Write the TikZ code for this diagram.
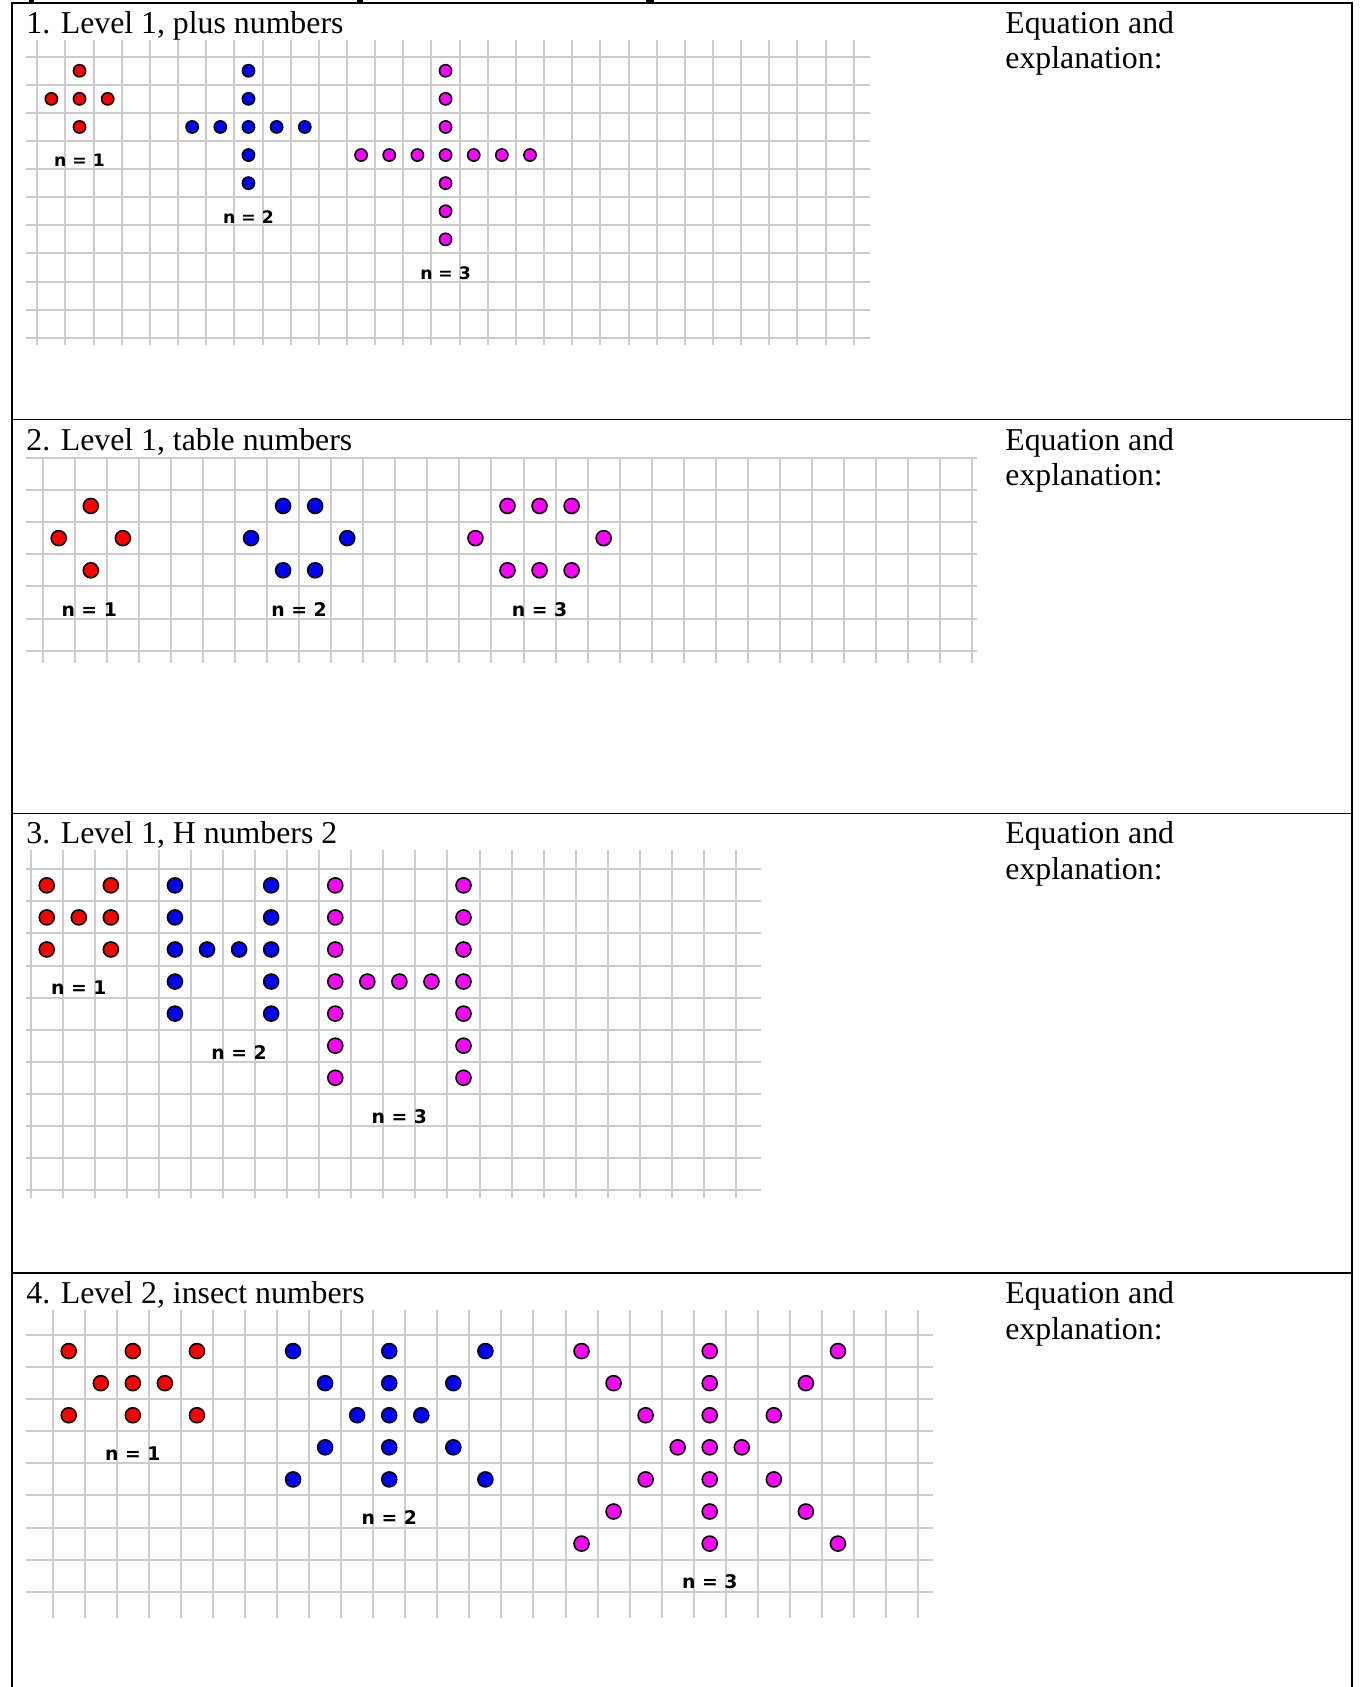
\documentclass[tikz,border=0pt]{standalone}
\usepackage{fontspec}
\setmainfont{Liberation Serif}
\newfontfamily\lblfont{DejaVu Sans}
\definecolor{gridgray}{RGB}{204,204,204}
\definecolor{dred}{RGB}{255,0,0}
\definecolor{dblue}{RGB}{0,0,255}
\definecolor{dmag}{RGB}{255,0,255}
\newcommand{\nlab}[1]{n = #1}
\begin{document}
\begin{tikzpicture}[x=0.5pt,y=-0.5pt,
  tableline/.style={draw=black,line width=0.9pt},
  gline/.style={draw=gridgray,line width=1pt},
  pdot/.style={circle,draw=black,line width=0.8pt,inner sep=0pt,minimum size=7.5pt,fill=#1},
  lbl/.style={font=\lblfont\bfseries\fontsize{9.4}{11}\selectfont,inner sep=0pt,anchor=center},
  lblsmall/.style={lbl,font=\lblfont\bfseries\fontsize{8.6}{10}\selectfont},
  title/.style={font=\fontsize{15.9}{18}\selectfont,inner sep=0pt,anchor=base west}]
\useasboundingbox (0,0) rectangle (1360,1687);
\fill[white] (0,0) rectangle (1360,1687);
% cut-off descenders above the table
\fill[black] (29,0) rectangle (34,2.5);
\fill[black] (357,0) rectangle (363,2.5);
\fill[black] (646,0) rectangle (654,2.5);
% table
\draw[tableline] (12.3,1687) -- (12.3,2.7) -- (1352,2.7) -- (1352,1687);
\draw[tableline] (12.3,419.5) -- (1352,419.5);
\draw[tableline] (12.3,813.4) -- (1352,813.4);
\draw[tableline] (12.3,1273.3) -- (1352,1273.3);
% titles
\node[title] (t1) at (26,33.2) {1. Level 1, plus numbers};
\node[title] (t2) at (26,450) {2. Level 1, table numbers};
\node[title] (t3) at (26,843.9) {3. Level 1, H numbers 2};
\node[title] (t4) at (26,1303.8) {4. Level 2, insect numbers};
\foreach \yy/\k in {33.2/1,450/2,843.9/3,1303.8/4}{
  \node[title] (e\k a) at (1005,\yy) {Equation and};
  \node[title] (e\k b) at (1005,\yy+35.5) {explanation:};
}
% ---------- grid 1
\begin{scope}[shift={(37.3,56.7)},x=14.0775pt,y=-14.05pt,pdot/.append style={minimum size=6.1pt}]
  \foreach \i in {0,...,29} \draw[gline] (\i,-0.594) -- (\i,10.26);
  \foreach \k in {0,...,10} \draw[gline] (-0.401,\k) -- (29.576,\k);
  \foreach \c/\r [count=\n] in {1/0,0/1,1/1,2/1,1/2}
    \node[pdot=dred] (g1r\n) at (\c+0.5,\r+0.5) {};
  \foreach \c/\r [count=\n] in {7/0,7/1,5/2,6/2,7/2,8/2,9/2,7/3,7/4}
    \node[pdot=dblue] (g1b\n) at (\c+0.5,\r+0.5) {};
  \foreach \c/\r [count=\n] in {14/0,14/1,14/2,11/3,12/3,13/3,14/3,15/3,16/3,17/3,14/4,14/5,14/6}
    \node[pdot=dmag] (g1m\n) at (\c+0.5,\r+0.5) {};
  \node[lblsmall] (g1l1) at (1.5,3.7) {\nlab{1}};
  \node[lblsmall] (g1l2) at (7.5,5.7) {\nlab{2}};
  \node[lblsmall] (g1l3) at (14.5,7.7) {\nlab{3}};
\end{scope}
% ---------- grid 2
\begin{scope}[shift={(42.7,457.7)},x=16.0275pt,y=-16.085pt]
  \foreach \i in {0,...,29} \draw[gline] (\i,0) -- (\i,6.39);
  \foreach \k in {0,...,6} \draw[gline] (-0.521,\k) -- (29.14,\k);
  \foreach \c/\r [count=\n] in {1/1,0/2,2/2,1/3}
    \node[pdot=dred] (g2r\n) at (\c+0.5,\r+0.5) {};
  \foreach \c/\r [count=\n] in {7/1,8/1,6/2,9/2,7/3,8/3}
    \node[pdot=dblue] (g2b\n) at (\c+0.5,\r+0.5) {};
  \foreach \c/\r [count=\n] in {14/1,15/1,16/1,13/2,17/2,14/3,15/3,16/3}
    \node[pdot=dmag] (g2m\n) at (\c+0.5,\r+0.5) {};
  \node[lbl] (g2l1) at (1.45,4.72) {\nlab{1}};
  \node[lbl] (g2l2) at (8.0,4.72) {\nlab{2}};
  \node[lbl] (g2l3) at (15.5,4.72) {\nlab{3}};
\end{scope}
% ---------- grid 3
\begin{scope}[shift={(30.7,869.3)},x=16.03pt,y=-16.035pt]
  \foreach \i in {0,...,22} \draw[gline] (\i,-0.602) -- (\i,10.26);
  \foreach \k in {0,...,10} \draw[gline] (-0.147,\k) -- (22.77,\k);
  \foreach \c/\r [count=\n] in {0/0,2/0,0/1,1/1,2/1,0/2,2/2}
    \node[pdot=dred] (g3r\n) at (\c+0.5,\r+0.5) {};
  \foreach \c/\r [count=\n] in {4/0,7/0,4/1,7/1,4/2,5/2,6/2,7/2,4/3,7/3,4/4,7/4}
    \node[pdot=dblue] (g3b\n) at (\c+0.5,\r+0.5) {};
  \foreach \c/\r [count=\n] in {9/0,13/0,9/1,13/1,9/2,13/2,9/3,10/3,11/3,12/3,13/3,9/4,13/4,9/5,13/5,9/6,13/6}
    \node[pdot=dmag] (g3m\n) at (\c+0.5,\r+0.5) {};
  \node[lbl] (g3l1) at (1.5,3.7) {\nlab{1}};
  \node[lbl] (g3l2) at (6.5,5.7) {\nlab{2}};
  \node[lbl] (g3l3) at (11.5,7.7) {\nlab{3}};
\end{scope}
% ---------- grid 4
\begin{scope}[shift={(52.7,1335)},x=16.025pt,y=-16.045pt]
  \foreach \i in {0,...,27} \draw[gline] (\i,-0.779) -- (\i,8.83);
  \foreach \k in {0,...,8} \draw[gline] (-0.833,\k) -- (27.46,\k);
  \foreach \c/\r [count=\n] in {0/0,2/0,4/0,1/1,2/1,3/1,0/2,2/2,4/2}
    \node[pdot=dred] (g4r\n) at (\c+0.5,\r+0.5) {};
  \foreach \c/\r [count=\n] in {7/0,10/0,13/0,8/1,10/1,12/1,9/2,10/2,11/2,8/3,10/3,12/3,7/4,10/4,13/4}
    \node[pdot=dblue] (g4b\n) at (\c+0.5,\r+0.5) {};
  \foreach \c/\r [count=\n] in {16/0,20/0,24/0,17/1,20/1,23/1,18/2,20/2,22/2,19/3,20/3,21/3,18/4,20/4,22/4,17/5,20/5,23/5,16/6,20/6,24/6}
    \node[pdot=dmag] (g4m\n) at (\c+0.5,\r+0.5) {};
  \node[lbl] (g4l1) at (2.5,3.7) {\nlab{1}};
  \node[lbl] (g4l2) at (10.5,5.7) {\nlab{2}};
  \node[lbl] (g4l3) at (20.5,7.7) {\nlab{3}};
\end{scope}
\end{tikzpicture}
\end{document}
